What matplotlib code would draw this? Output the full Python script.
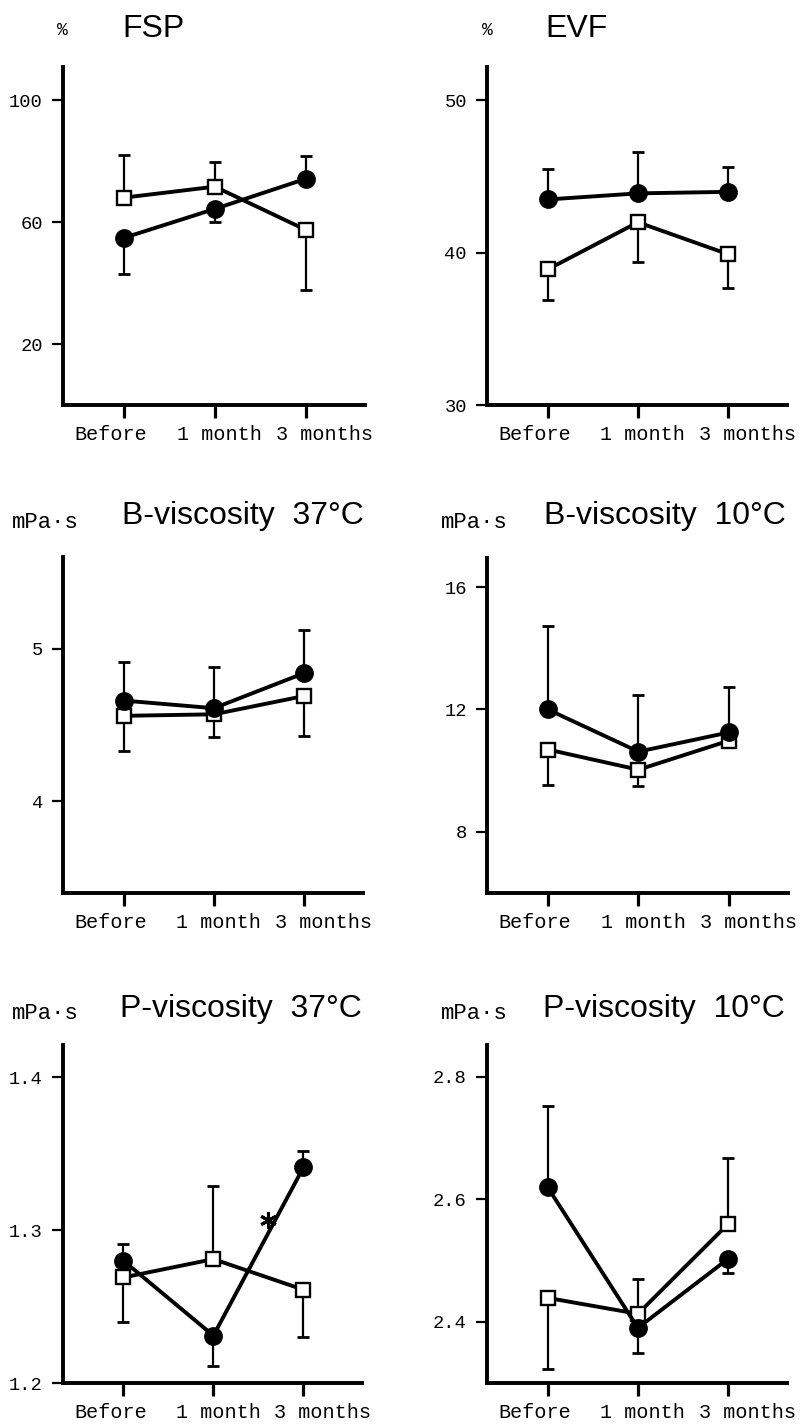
import numpy as np
import matplotlib
matplotlib.use("Agg")
import matplotlib.pyplot as plt
from matplotlib.transforms import ScaledTranslation

W, H = 805, 1426

# --- data ---
periods = ["Before", "1 month", "3 months"]

# FSP (%)
fsp_dot = [54.9, 64.4, 74.3]
fsp_dot_lo = [11.9, 4.2, 0]
fsp_dot_hi = [0, 0, 7.6]
fsp_sq = [68.1, 71.7, 57.5]
fsp_sq_lo = [0, 0, 19.7]
fsp_sq_hi = [14.1, 8.2, 0]

# EVF (%)
evf_dot = [43.5, 43.9, 44.0]
evf_dot_lo = [0, 0, 0]
evf_dot_hi = [2.0, 2.7, 1.6]
evf_sq = [38.9, 42.0, 39.9]
evf_sq_lo = [2.0, 2.6, 2.2]
evf_sq_hi = [0, 0, 0]

# B-viscosity 37C
b37_dot = [4.66, 4.61, 4.84]
b37_dot_lo = [0, 0, 0]
b37_dot_hi = [0.25, 0.27, 0.28]
b37_sq = [4.56, 4.57, 4.69]
b37_sq_lo = [0.23, 0.15, 0.26]
b37_sq_hi = [0, 0, 0]

# B-viscosity 10C
b10_dot = [12.0, 10.62, 11.25]
b10_dot_lo = [0, 0, 0]
b10_dot_hi = [2.72, 1.84, 1.47]
b10_sq = [10.69, 10.03, 10.98]
b10_sq_lo = [1.15, 0.52, 0]
b10_sq_hi = [0, 0, 0]

# P-viscosity 37C
p37_dot = [1.280, 1.231, 1.341]
p37_dot_lo = [0, 0.020, 0]
p37_dot_hi = [0.011, 0, 0.011]
p37_sq = [1.269, 1.281, 1.261]
p37_sq_lo = [0.029, 0, 0.031]
p37_sq_hi = [0, 0.048, 0]
p37_star = (1.61, 1.3065)

# P-viscosity 10C
p10_dot = [2.62, 2.39, 2.503]
p10_dot_lo = [0, 0.041, 0.024]
p10_dot_hi = [0.132, 0, 0]
p10_sq = [2.439, 2.413, 2.56]
p10_sq_lo = [0.116, 0, 0]
p10_sq_hi = [0, 0.057, 0.108]

panels = [
    dict(title="FSP", unit="%", rect=(63, 67, 365, 405), ylim=(0, 111), yticks=[20, 60, 100],
         ylabels=["20", "60", "100"], title_xy=(122, 37), unit_xy=(57, 35),
         dot=(fsp_dot, fsp_dot_lo, fsp_dot_hi), sq=(fsp_sq, fsp_sq_lo, fsp_sq_hi)),
    dict(title="EVF", unit="%", rect=(487, 67, 787, 405), ylim=(30, 52.2), yticks=[30, 40, 50],
         ylabels=["30", "40", "50"], title_xy=(545, 37), unit_xy=(482, 35),
         dot=(evf_dot, evf_dot_lo, evf_dot_hi), sq=(evf_sq, evf_sq_lo, evf_sq_hi)),
    dict(title="B-viscosity  37°C", unit="mPa·s", rect=(63, 557, 363, 893), ylim=(3.4, 5.6), yticks=[4, 5],
         ylabels=["4", "5"], title_xy=(122, 524), unit_xy=(12, 528),
         dot=(b37_dot, b37_dot_lo, b37_dot_hi), sq=(b37_sq, b37_sq_lo, b37_sq_hi)),
    dict(title="B-viscosity  10°C", unit="mPa·s", rect=(487, 558, 788, 893), ylim=(6, 16.95), yticks=[8, 12, 16],
         ylabels=["8", "12", "16"], title_xy=(544, 524), unit_xy=(441, 528),
         dot=(b10_dot, b10_dot_lo, b10_dot_hi), sq=(b10_sq, b10_sq_lo, b10_sq_hi)),
    dict(title="P-viscosity  37°C", unit="mPa·s", rect=(63, 1045, 362, 1383), ylim=(1.2, 1.421), yticks=[1.2, 1.3, 1.4],
         ylabels=["1.2", "1.3", "1.4"], title_xy=(120, 1017), unit_xy=(12, 1019),
         dot=(p37_dot, p37_dot_lo, p37_dot_hi), sq=(p37_sq, p37_sq_lo, p37_sq_hi), star=p37_star),
    dict(title="P-viscosity  10°C", unit="mPa·s", rect=(487, 1045, 787, 1383), ylim=(2.3, 2.852), yticks=[2.4, 2.6, 2.8],
         ylabels=["2.4", "2.6", "2.8"], title_xy=(543, 1017), unit_xy=(441, 1019),
         dot=(p10_dot, p10_dot_lo, p10_dot_hi), sq=(p10_sq, p10_sq_lo, p10_sq_hi)),
]

mono = "Liberation Mono"
sans = "Liberation Sans"

fig = plt.figure(figsize=(W / 100, H / 100), dpi=100)
x = np.arange(len(periods))
label_shift = [-13, 5, 19]  # px, the typed labels are not centred on ticks


def draw_err(ax, vals, lo, hi):
    for i in range(len(vals)):
        for e, sgn in ((lo[i], -1), (hi[i], 1)):
            if e > 0:
                ax.errorbar([x[i]], [vals[i] + sgn * e / 2], yerr=[e / 2], fmt="none",
                            ecolor="black", elinewidth=1.6, capsize=4.5, capthick=2, zorder=2)


for p in panels:
    l, t, r, b = p["rect"]
    ax = fig.add_axes([l / W, 1 - b / H, (r - l) / W, (b - t) / H])
    vals, lo, hi = p["sq"]
    draw_err(ax, vals, lo, hi)
    vals2, lo2, hi2 = p["dot"]
    draw_err(ax, vals2, lo2, hi2)
    ax.plot(x, vals, "-s", color="black", lw=2.8, ms=10, mfc="white", mec="black", mew=1.7, zorder=3)
    ax.plot(x, vals2, "-o", color="black", lw=2.8, ms=12.5, mfc="black", mec="black", zorder=4)
    if "star" in p:
        ax.plot([p["star"][0]], [p["star"][1]], marker=(6, 2, 0), ms=12, mew=2.2, color="black", zorder=5)

    ax.set_xlim(-0.67, 2.65)
    ax.set_ylim(*p["ylim"])
    ax.set_yticks(p["yticks"])
    ax.set_yticklabels(p["ylabels"], fontfamily=mono, fontsize=13.5)
    ax.set_xticks(x)
    ax.set_xticklabels([])
    # the x labels are typed text, shifted off their ticks
    for xi, name, dx in zip(x, periods, label_shift):
        off = ScaledTranslation(dx / 100, -20 / 100, fig.dpi_scale_trans)
        ax.text(xi, 0, name, transform=ax.get_xaxis_transform() + off,
                fontfamily=mono, fontsize=14.5, ha="center", va="top")
    ax.tick_params(axis="x", direction="out", length=9.5, width=2.3)
    ax.tick_params(axis="y", direction="out", length=8, width=1.6, pad=6.5)
    for s in ("top", "right"):
        ax.spines[s].set_visible(False)
    for s in ("left", "bottom"):
        ax.spines[s].set_linewidth(2.8)
    ax.patch.set_alpha(0)

    tx, ty = p["title_xy"]
    fig.text(tx / W, 1 - ty / H, p["title"], fontfamily=sans, fontsize=23, va="baseline", ha="left")
    ux, uy = p["unit_xy"]
    fs = 13 if p["unit"] == "%" else 16
    fig.text(ux / W, 1 - uy / H, p["unit"], fontfamily=mono, fontsize=fs, va="baseline", ha="left")

fig.savefig("out.png", dpi=100)
